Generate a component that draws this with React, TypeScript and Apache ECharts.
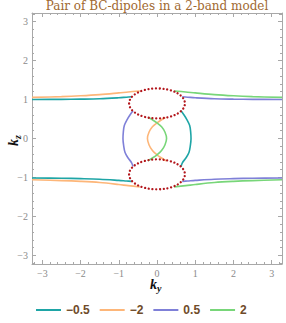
import React, { useEffect, useRef } from "react";
import * as echarts from "echarts";

// ---- data (ky, kz) ----
const levelNames = ["−0.5", "−2", "0.5", "2"];
const levelColors = ["#1ea5a6", "#fdb679", "#7f80d8", "#78d679"];

// level −0.5 (teal)
const tealUpper = [[-3.27, 1.0], [-2.5, 1.005], [-2, 1.01], [-1.5, 1.02], [-1, 1.045], [-0.8, 1.06], [-0.66, 1.07]];
const tealLower = [[-3.27, -1.015], [-2.5, -1.02], [-2, -1.03], [-1.5, -1.045], [-1, -1.075], [-0.8, -1.09], [-0.66, -1.1]];
const tealArc = [[0.628, 0.71], [0.698, 0.616], [0.785, 0.48], [0.855, 0.334], [0.881, 0.163], [0.89, -0.008], [0.873, -0.179], [0.838, -0.35], [0.76, -0.495], [0.663, -0.623], [0.628, -0.72]];

// level −2 (orange)
const orangeUpper = [[-3.27, 1.055], [-2.5, 1.075], [-2, 1.095], [-1.5, 1.125], [-1, 1.17], [-0.75, 1.195], [-0.45, 1.22]];
const orangeLower = [[-3.27, -1.06], [-2.5, -1.08], [-2, -1.1], [-1.5, -1.13], [-1, -1.18], [-0.75, -1.21], [-0.45, -1.24]];
const orangeMid = [[0.22, 0.54], [0.12, 0.48], [0, 0.4], [-0.12, 0.3], [-0.21, 0.16], [-0.25, 0], [-0.21, -0.16], [-0.12, -0.31], [0, -0.42], [0.12, -0.5], [0.24, -0.57]];

// level 0.5 (purple)
const purpleUpper = [[3.27, 1.0], [2.5, 1.005], [2, 1.01], [1.5, 1.02], [1, 1.045], [0.8, 1.06], [0.66, 1.07]];
const purpleLower = [[3.27, -1.015], [2.5, -1.02], [2, -1.03], [1.5, -1.045], [1, -1.075], [0.8, -1.09], [0.66, -1.1]];
const purpleArc = [[-0.628, 0.71], [-0.698, 0.616], [-0.785, 0.48], [-0.855, 0.334], [-0.881, 0.163], [-0.89, -0.008], [-0.873, -0.179], [-0.838, -0.35], [-0.76, -0.495], [-0.663, -0.623], [-0.628, -0.72]];

// level 2 (green)
const greenUpper = [[3.27, 1.055], [2.5, 1.075], [2, 1.095], [1.5, 1.125], [1, 1.17], [0.75, 1.195], [0.45, 1.22]];
const greenLower = [[3.27, -1.06], [2.5, -1.08], [2, -1.1], [1.5, -1.13], [1, -1.18], [0.75, -1.21], [0.45, -1.24]];
const greenMid = [[-0.22, 0.54], [-0.12, 0.48], [0, 0.4], [0.12, 0.3], [0.21, 0.16], [0.25, 0], [0.21, -0.16], [0.12, -0.31], [0, -0.42], [-0.12, -0.5], [-0.24, -0.57]];

// BC dipole ellipses: centers and radii (ky, kz)
const ellipseCenters = [[0, 0.9], [0, -0.92]];
const ellipseRadii = [0.73, 0.385];

const majorTicks = [-3, -2, -1, 0, 1, 2, 3];
const minorTicks: number[] = [];
for (let i = -16; i <= 16; i++) if (i % 5 !== 0) minorTicks.push(Math.round(i * 20) / 100);

const xRange = [-3.27, 3.27];
const yRange = [-3.22, 3.22];

const frameColor = "#a8a8a8";
const labelColor = "#8a8a8a";
const serif = "'Liberation Serif', 'DejaVu Serif', serif";

const fmt = (v: number) => (v < 0 ? "−" + Math.abs(v) : String(v));

function axisSet(dim: "x" | "y", pos: string, labels: boolean) {
  const range = dim === "x" ? xRange : yRange;
  const base = {
    type: "value",
    position: pos,
    min: range[0],
    max: range[1],
    splitLine: { show: false },
  };
  return [
    {
      ...base,
      axisLine: { show: true, onZero: false, lineStyle: { color: frameColor, width: 1 } },
      axisTick: { show: true, inside: true, length: 4, customValues: majorTicks, lineStyle: { color: frameColor } },
      axisLabel: labels
        ? { show: true, customValues: majorTicks, formatter: fmt, color: labelColor, fontFamily: serif, fontSize: 10, margin: 4 }
        : { show: false },
    },
    {
      ...base,
      axisLine: { show: false, onZero: false },
      axisTick: { show: true, inside: true, length: 2, customValues: minorTicks, lineStyle: { color: frameColor } },
      axisLabel: { show: false },
    },
  ];
}

function lineSeries(name: string, color: string, data: number[][]) {
  return {
    type: "line",
    name,
    data,
    smooth: 0.35,
    showSymbol: false,
    symbol: "none",
    color,
    lineStyle: { color, width: 1.6 },
    z: 3,
  };
}

export default function App() {
  const ref = useRef<HTMLDivElement>(null);
  useEffect(() => {
    if (!ref.current) return;
    const chart = echarts.init(ref.current, null, { renderer: "svg" });
    const pieces = [
      [tealUpper, tealLower, tealArc],
      [orangeUpper, orangeLower, orangeMid],
      [purpleUpper, purpleLower, purpleArc],
      [greenUpper, greenLower, greenMid],
    ];
    const series: any[] = [];
    pieces.forEach((group, i) => {
      group.forEach((d) => series.push(lineSeries(levelNames[i], levelColors[i], d)));
    });
    series.push({
      type: "custom",
      name: "dipoles",
      data: ellipseCenters,
      z: 10,
      renderItem: (_p: any, api: any) => {
        const c = api.coord([api.value(0), api.value(1)]);
        const s = api.size([ellipseRadii[0], ellipseRadii[1]]);
        return {
          type: "ellipse",
          shape: { cx: c[0], cy: c[1], rx: s[0], ry: s[1] },
          style: { fill: "none", stroke: "#b3161c", lineWidth: 2.3, lineDash: [0.01, 3.7], lineCap: "round" },
        };
      },
    });

    chart.setOption({
      animation: false,
      backgroundColor: "#ffffff",
      title: {
        text: "Pair of BC-dipoles in a 2-band model",
        left: 157,
        top: 0,
        padding: 0,
        textAlign: "center",
        textStyle: { color: "#a0682f", fontFamily: "'DejaVu Serif', serif", fontSize: 12, fontWeight: "normal", lineHeight: 12 },
      },
      grid: { left: 32, right: 4, top: 13, bottom: 59, containLabel: false },
      xAxis: [...axisSet("x", "bottom", true), ...axisSet("x", "top", false)],
      yAxis: [...axisSet("y", "left", true), ...axisSet("y", "right", false)],
      legend: {
        data: levelNames,
        left: 31,
        top: 299,
        icon: "rect",
        itemWidth: 25,
        itemHeight: 2,
        itemGap: 10,
        textStyle: { color: "#6f4b29", fontWeight: "bold", fontSize: 12, fontFamily: "'Liberation Sans', Arial, sans-serif" },
      },
      graphic: [
        {
          type: "group",
          left: 150,
          top: 277,
          children: [
            { type: "text", x: 0, y: 0, style: { text: "k", font: "italic bold 14px " + serif, fill: "#111" } },
            { type: "text", x: 7, y: 6, style: { text: "y", font: "italic bold 10px " + serif, fill: "#111" } },
          ],
        },
        {
          type: "group",
          x: 6,
          y: 146,
          rotation: Math.PI / 2,
          children: [
            { type: "text", x: 0, y: 0, style: { text: "k", font: "italic bold 14px " + serif, fill: "#111" } },
            { type: "text", x: 7, y: 6, style: { text: "z", font: "italic bold 10px " + serif, fill: "#111" } },
          ],
        },
      ],
      series,
    });
    return () => chart.dispose();
  }, []);
  return <div ref={ref} style={{ position: "absolute", left: 0, top: 0, width: 286, height: 323 }} />;
}
